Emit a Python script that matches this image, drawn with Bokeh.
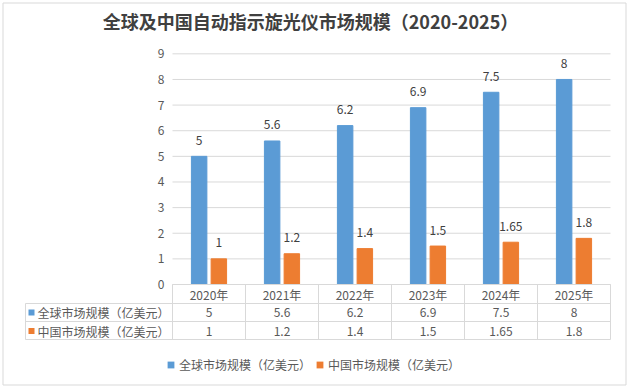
from bokeh.plotting import figure
from bokeh.models import Range1d, ColumnDataSource, Legend, LegendItem
from bokeh.transform import dodge
from bokeh.core.properties import value
from bokeh.embed import file_html
from bokeh.resources import INLINE

# ---------------- data ----------------
title_text = "全球及中国自动指示旋光仪市场规模（2020-2025）"
years = ["2020年", "2021年", "2022年", "2023年", "2024年", "2025年"]
series_names = ["全球市场规模（亿美元）", "中国市场规模（亿美元）"]
global_size = [5, 5.6, 6.2, 6.9, 7.5, 8]
china_size = [1, 1.2, 1.4, 1.5, 1.65, 1.8]
y_ticks = [0, 1, 2, 3, 4, 5, 6, 7, 8, 9]

# ---------------- style / layout (canvas pixels) ----------------
FONT = "Noto Sans CJK SC"
BLUE = "#5B9BD5"
ORANGE = "#ED7D31"
GRID = "#D9D9D9"
BORDER = "#D9D9D9"
TEXT = "#595959"
DARK = "#404040"
W, H = 627, 388
CAT_LEFT, CAT_RIGHT = 172, 610       # category (plot) area
ZERO_PY = 284                        # pixel row of value 0
PX_PER_UNIT = 25.63
ROW_LINES_PY = [284, 303, 321, 339]  # table horizontal rules
ROW_MID_PY = [293.5, 312, 330.5]     # header, row 1, row 2
TABLE_LEFT_PX = 25
BOX_PX = (2.5, 2.5, 625.5, 384.5)    # outer chart border (l, t, r, b)
OFF = 0.135
BAR_W = 0.212

n = len(years)
idx = list(range(n))
cat_w = (CAT_RIGHT - CAT_LEFT) / n


def px_to_x(px):
    return -0.5 + (px - CAT_LEFT) / cat_w


def py_to_y(py):
    return (ZERO_PY - py) / PX_PER_UNIT


def fmt(v):
    return f"{v:g}"


p = figure(width=W, height=H, x_range=Range1d(px_to_x(0), px_to_x(W)),
           y_range=Range1d(py_to_y(H), py_to_y(0)), toolbar_location=None,
           output_backend="svg", min_border=0, x_axis_location=None, y_axis_location=None)
p.outline_line_color = None
p.grid.visible = False

txt = dict(text_font=value(FONT), text_font_size="12px", text_baseline="middle")

# outer border
bl, bt, br, bb = (px_to_x(BOX_PX[0]), py_to_y(BOX_PX[1]), px_to_x(BOX_PX[2]), py_to_y(BOX_PX[3]))
p.segment(x0=[bl, bl, bl, br], x1=[br, br, bl, br], y0=[bt, bb, bt, bt], y1=[bt, bb, bb, bb],
          line_color=BORDER, line_width=1)

# title
p.text(x=[px_to_x(310)], y=[py_to_y(20)], text=[title_text], text_font=value(FONT),
       text_font_size="18px", text_font_style="bold", text_color=DARK,
       text_align="center", text_baseline="middle")

# value gridlines and tick labels
p.segment(x0=[-0.5] * len(y_ticks), x1=[n - 0.5] * len(y_ticks), y0=y_ticks, y1=y_ticks,
          line_color=GRID, line_width=1)
p.text(x=[px_to_x(CAT_LEFT - 8)] * len(y_ticks), y=y_ticks, text=[str(t) for t in y_ticks],
       text_color=TEXT, text_align="right", **txt)

# bars and data labels
src = ColumnDataSource(dict(x=idx, g=global_size, c=china_size,
                            gl=[fmt(v) for v in global_size], cl=[fmt(v) for v in china_size]))
p.vbar(x=dodge("x", -OFF), top="g", bottom=0, width=BAR_W, color=BLUE, source=src)
p.vbar(x=dodge("x", OFF), top="c", bottom=0, width=BAR_W, color=ORANGE, source=src)
for col, lab, off in (("g", "gl", -OFF), ("c", "cl", OFF)):
    p.text(x=dodge("x", off), y=col, text=lab, source=src, y_offset=-16,
           text_color=DARK, text_align="center", **txt)

# data table
x_left = px_to_x(TABLE_LEFT_PX)
ry = [py_to_y(v) for v in ROW_LINES_PY]
p.segment(x0=[-0.5] + [x_left] * 3, x1=[n - 0.5] * 4, y0=ry, y1=ry, line_color=GRID, line_width=1)
bounds = [i - 0.5 for i in range(n + 1)]
p.segment(x0=bounds + [x_left], x1=bounds + [x_left],
          y0=[ry[0]] * len(bounds) + [ry[1]], y1=[ry[-1]] * (len(bounds) + 1),
          line_color=GRID, line_width=1)
p.text(x=idx, y=[py_to_y(ROW_MID_PY[0])] * n, text=years, text_color=TEXT,
       text_align="center", **txt)

sq = []
for r, (name, vals, colr) in enumerate(((series_names[0], global_size, BLUE),
                                        (series_names[1], china_size, ORANGE))):
    ymid = py_to_y(ROW_MID_PY[r + 1])
    p.text(x=idx, y=[ymid] * n, text=[fmt(v) for v in vals], text_color=TEXT,
           text_align="center", **txt)
    rr = p.scatter(x=[px_to_x(TABLE_LEFT_PX + 6)], y=[ymid], marker="square", size=6,
                   fill_color=colr, line_color=None)
    sq.append(rr)
    p.text(x=[px_to_x(TABLE_LEFT_PX + 12)], y=[ymid], text=[name], text_color=TEXT,
           text_align="left", **txt)

legend = Legend(items=[LegendItem(label=series_names[i], renderers=[sq[i]]) for i in range(2)],
                orientation="horizontal", location=(162, 15), glyph_width=17, glyph_height=17,
                label_standoff=0, spacing=0, padding=0, margin=0, border_line_color=None,
                background_fill_alpha=0, label_text_font=FONT, label_text_font_size="12px",
                label_text_color=TEXT)
p.add_layout(legend)

open("out.html", "w").write(file_html(p, INLINE))
